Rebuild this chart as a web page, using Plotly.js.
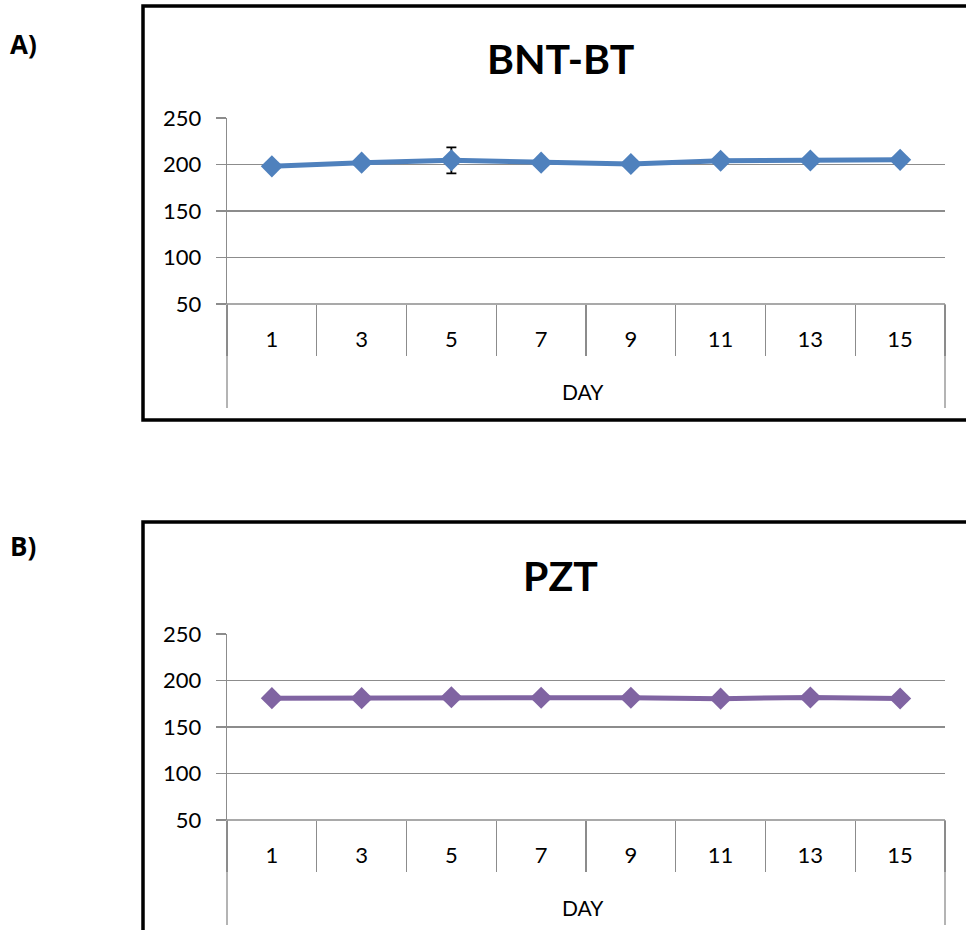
<!DOCTYPE html>
<html>
<head>
<meta charset="utf-8">
<script src="https://cdn.plot.ly/plotly-3.0.1.min.js"></script>
<style>html,body{margin:0;padding:0;background:#fff;}#chart{width:966px;height:930px;}</style>
</head>
<body>
<div id="chart"></div>
<script>
const days = ["1", "3", "5", "7", "9", "11", "13", "15"];
const bntValues = [198, 202, 204.5, 202, 200.5, 204, 204.3, 205];
const bntErrors = [1, 4, 14, 1.5, 1, 2, 2, 2];
const pztValues = [181, 181, 182, 181.5, 181.5, 180.5, 181.7, 180.6];
const pztErrors = [1, 1, 1, 3.5, 1, 1, 5, 4.5];
const yTicks = [50, 100, 150, 200, 250];
const titleA = "BNT-BT";
const titleB = "PZT";
const axisLabel = "DAY";

const W = 966, H = 930;
const px = v => v / W;
const py = v => 1 - v / H;
const FONT = "Lato, 'Open Sans', sans-serif";
const GRID = "#8c8c8c";

function trace(vals, errs, color, xa, ya) {
  return {
    x: days, y: vals, xaxis: xa, yaxis: ya, type: "scatter", mode: "lines+markers",
    line: {color: color, width: 5},
    marker: {symbol: "diamond", size: 17, color: color},
    error_y: {type: "data", array: errs, visible: true, color: "#000", thickness: 1.8, width: 5},
    showlegend: false, hoverinfo: "x+y"
  };
}

function xaxisDef(dom, anchor) {
  return {
    domain: dom, anchor: anchor, type: "category", categoryorder: "array", categoryarray: days,
    showgrid: false, showline: false, zeroline: false,
    ticks: "outside", tickson: "boundaries", ticklen: 51, tickwidth: 1.3, tickcolor: GRID,
    ticklabelstandoff: 20,
    tickfont: {family: FONT, size: 22, color: "#000"},
    range: [-0.5, 7.5], fixedrange: true
  };
}
function yaxisDef(dom, anchor) {
  return {
    domain: dom, anchor: anchor, range: [50, 250], tickvals: yTicks,
    showgrid: true, gridcolor: GRID, gridwidth: 1.3,
    showline: true, linecolor: GRID, linewidth: 1.3, zeroline: false,
    ticks: "outside", ticklen: 10, tickcolor: GRID, tickwidth: 1.3,
    ticklabelstandoff: 10,
    tickfont: {family: FONT, size: 22, color: "#000"}, fixedrange: true
  };
}

const xDom = [px(227), px(945)];
const yDomA = [py(304), py(118)];
const yDomB = [py(820), py(634)];

const shapes = [];
shapes.push({type: "rect", xref: "paper", yref: "paper", x0: px(143), x1: px(975), y0: py(420), y1: py(6), line: {color: "#000", width: 3.5}});
shapes.push({type: "rect", xref: "paper", yref: "paper", x0: px(143), x1: px(975), y0: py(940), y1: py(522), line: {color: "#000", width: 3.5}});
[[304, 408], [820, 925]].forEach(([t, b]) => {
  shapes.push({type: "line", xref: "paper", yref: "paper", x0: px(227), x1: px(227), y0: py(t), y1: py(b), line: {color: GRID, width: 1.3}});
  shapes.push({type: "line", xref: "paper", yref: "paper", x0: px(945), x1: px(945), y0: py(t), y1: py(b), line: {color: GRID, width: 1.3}});
  shapes.push({type: "line", xref: "paper", yref: "paper", x0: px(227), x1: px(945), y0: py(t), y1: py(t), line: {color: GRID, width: 1.3}});
});

const annotations = [
  {text: "<b>A)</b>", x: px(8), y: py(44), xref: "paper", yref: "paper", xanchor: "left", yanchor: "middle", showarrow: false, font: {family: "'Open Sans', sans-serif", size: 26, color: "#000"}},
  {text: "<b>B)</b>", x: px(8), y: py(546), xref: "paper", yref: "paper", xanchor: "left", yanchor: "middle", showarrow: false, font: {family: "'Open Sans', sans-serif", size: 26, color: "#000"}},
  {text: "<b>" + titleA + "</b>", x: px(560), y: py(58), xref: "paper", yref: "paper", xanchor: "center", yanchor: "middle", showarrow: false, font: {family: FONT, size: 41, color: "#000"}},
  {text: "<b>" + titleB + "</b>", x: px(560), y: py(575), xref: "paper", yref: "paper", xanchor: "center", yanchor: "middle", showarrow: false, font: {family: FONT, size: 41, color: "#000"}},
  {text: axisLabel, x: px(583), y: py(391), xref: "paper", yref: "paper", xanchor: "center", yanchor: "middle", showarrow: false, font: {family: FONT, size: 21, color: "#000"}},
  {text: axisLabel, x: px(583), y: py(907), xref: "paper", yref: "paper", xanchor: "center", yanchor: "middle", showarrow: false, font: {family: FONT, size: 21, color: "#000"}}
];

const layout = {
  width: W, height: H, margin: {l: 0, r: 0, t: 0, b: 0},
  paper_bgcolor: "#fff", plot_bgcolor: "rgba(0,0,0,0)",
  xaxis: xaxisDef(xDom, "y"), yaxis: yaxisDef(yDomA, "x"),
  xaxis2: xaxisDef(xDom, "y2"), yaxis2: yaxisDef(yDomB, "x2"),
  shapes: shapes, annotations: annotations, showlegend: false
};

Plotly.newPlot("chart", [
  trace(bntValues, bntErrors, "#4f81bd", "x", "y"),
  trace(pztValues, pztErrors, "#8064a2", "x2", "y2")
], layout, {staticPlot: true, displayModeBar: false});
</script>
</body>
</html>
